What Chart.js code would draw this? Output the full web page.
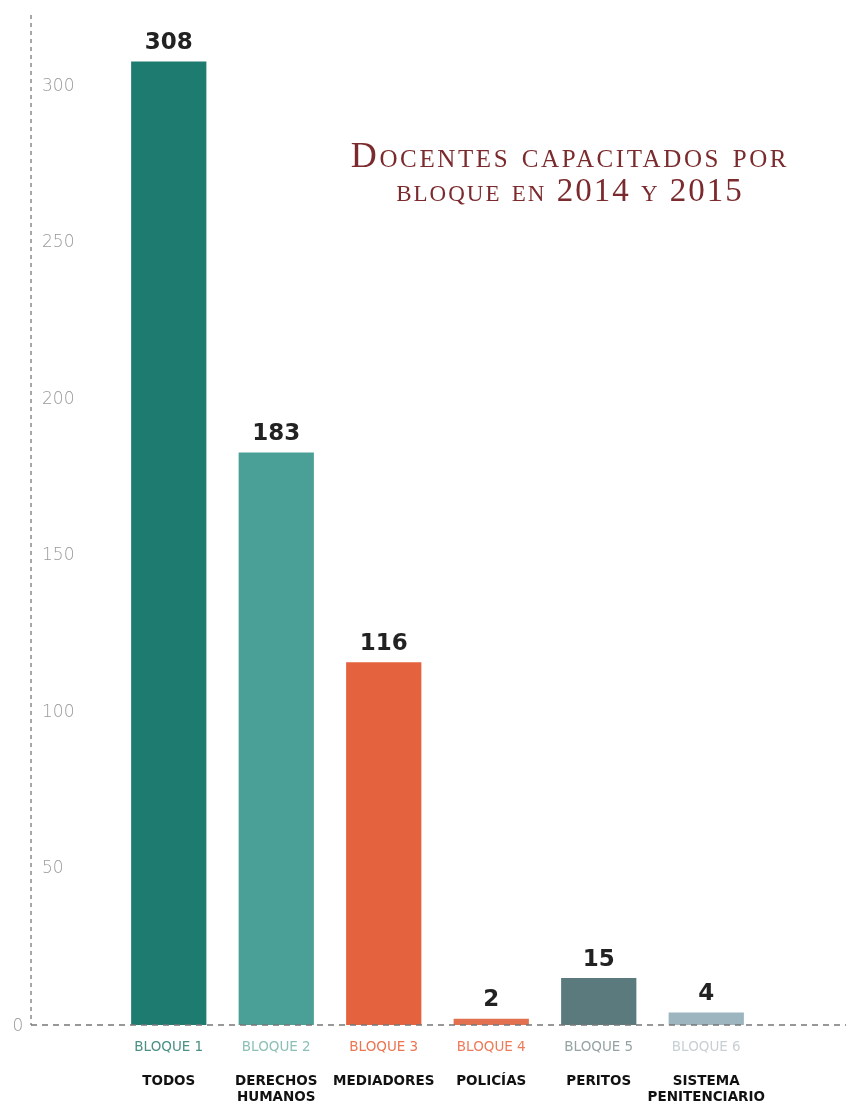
<!DOCTYPE html>
<html>
<head>
<meta charset="utf-8">
<script src="https://cdn.jsdelivr.net/npm/chart.js@4.4.0/dist/chart.umd.min.js"></script>
<style>
  html, body { margin: 0; padding: 0; background: #fff; }
  #wrap { position: relative; width: 846px; height: 1107px; }
  #title {
    position: absolute; left: 290px; width: 560px; top: 138px;
    text-align: center; color: #7b2b2d;
    font-family: "Liberation Serif", "DejaVu Serif", serif;
    font-variant: small-caps; font-size: 36px; line-height: 34px;
    letter-spacing: 2.6px;
  }
  #title .l2 { font-size: 33px; letter-spacing: 2px; }
</style>
</head>
<body>
<div id="wrap">
  <canvas id="chart" width="846" height="1107"></canvas>
  <div id="title">Docentes capacitados por<br><span class="l2">bloque en 2014 y 2015</span></div>
</div>
<script>
  // Data
  const bloques = ['BLOQUE 1', 'BLOQUE 2', 'BLOQUE 3', 'BLOQUE 4', 'BLOQUE 5', 'BLOQUE 6'];
  const grupos = ['TODOS', ['DERECHOS', 'HUMANOS'], 'MEDIADORES', 'POLICÍAS', 'PERITOS', ['SISTEMA', 'PENITENCIARIO']];
  const docentes = [308, 183, 116, 2, 15, 4];
  const barColors = ['#1e7b70', '#4aa096', '#e5623f', '#e2704f', '#5b7a7e', '#9cb5bf'];
  const bloqueColors = ['#4a9085', '#8cc0b7', '#ec7550', '#ee7a5a', '#96a3a3', '#c8d0d3'];
  const yTicks = [0, 50, 100, 150, 200, 250, 300];

  // Dashed axes and value labels
  const decorPlugin = {
    id: 'decor',
    afterDatasetsDraw(chart) {
      const ctx = chart.ctx;
      const y = chart.scales.y;
      const y0 = y.getPixelForValue(0);
      ctx.save();
      // vertical dashed axis
      ctx.strokeStyle = '#8a8a8a';
      ctx.lineWidth = 1.5;
      ctx.setLineDash([4, 4]);
      ctx.beginPath();
      ctx.moveTo(31, 15);
      ctx.lineTo(31, y0);
      ctx.stroke();
      // baseline
      ctx.strokeStyle = '#777';
      ctx.setLineDash([6, 5]);
      ctx.beginPath();
      ctx.moveTo(31, y0);
      ctx.lineTo(846, y0);
      ctx.stroke();
      ctx.setLineDash([]);
      // zero label
      ctx.fillStyle = '#999';
      ctx.font = '200 17px "DejaVu Sans", sans-serif';
      ctx.textAlign = 'center';
      ctx.textBaseline = 'middle';
      ctx.fillText('0', 18, y0 + 2);
      // value labels
      const meta = chart.getDatasetMeta(0);
      ctx.fillStyle = '#222';
      ctx.font = 'bold 23px "DejaVu Sans", sans-serif';
      ctx.textBaseline = 'bottom';
      meta.data.forEach((bar, i) => {
        ctx.fillText(String(docentes[i]), bar.x, bar.y - 7);
      });
      ctx.restore();
    }
  };

  const ctx = document.getElementById('chart').getContext('2d');
  new Chart(ctx, {
    type: 'bar',
    data: {
      labels: bloques,
      datasets: [{
        label: 'Docentes capacitados',
        data: docentes,
        backgroundColor: barColors,
        borderWidth: 0,
        barPercentage: 0.7,
        categoryPercentage: 1.0
      }]
    },
    options: {
      responsive: false,
      animation: false,
      layout: { padding: { left: 42, right: 86, top: 24, bottom: 0 } },
      plugins: {
        legend: { display: false },
        tooltip: { enabled: false }
      },
      scales: {
        x: {
          grid: { display: false },
          border: { display: false },
          afterFit(scale) {
            scale.height = 34;
          },
          ticks: {
            color: bloqueColors,
            font: { family: '"DejaVu Sans", sans-serif', size: 13.5, weight: 'normal' },
            padding: 6,
            maxRotation: 0,
            autoSkip: false
          }
        },
        x2: {
          type: 'category',
          position: 'bottom',
          labels: grupos,
          grid: { display: false },
          border: { display: false },
          afterFit(scale) {
            scale.height = 48;
          },
          ticks: {
            color: '#111',
            font: { family: '"DejaVu Sans", sans-serif', size: 13.5, weight: 'bold' },
            padding: 6,
            maxRotation: 0,
            autoSkip: false
          }
        },
        y: {
          min: 0,
          max: 320,
          grid: { display: false },
          border: { display: false },
          afterBuildTicks(scale) {
            scale.ticks = yTicks.map(v => ({ value: v }));
          },
          afterFit(scale) {
            scale.width = 73;
          },
          ticks: {
            color: '#999',
            crossAlign: 'far',
            font: { family: '"DejaVu Sans", sans-serif', size: 17, weight: '200' },
            callback: v => (v === 0 ? '' : v)
          }
        }
      }
    },
    plugins: [decorPlugin]
  });
</script>
</body>
</html>
